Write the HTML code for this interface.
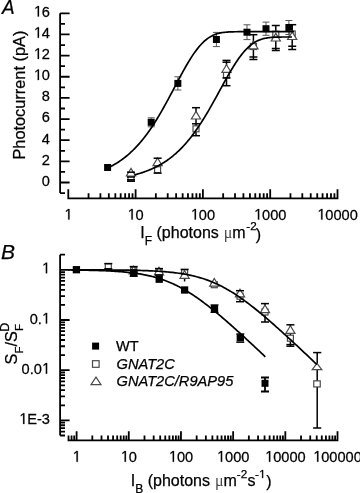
<!DOCTYPE html>
<html><head><meta charset="utf-8"><title>Figure</title><style>
html,body{margin:0;padding:0;background:#fff;}
body{width:360px;height:493px;overflow:hidden;}
svg{display:block;filter:grayscale(1);}
text{font-family:"Liberation Sans",sans-serif;fill:#000;stroke:#000;stroke-width:0.25px;}
tspan.o{stroke:none;}
.g1{stroke:#000;stroke-width:0.25px;}
tspan.o{fill:transparent;}
</style></head><body>
<svg width="360" height="493" viewBox="0 0 360 493">
<rect width="360" height="493" fill="#fff"/>
<path d="M60.10,13.30L60.10,193.07M60.10,193.07L65.00,193.07M60.10,182.50L69.60,182.50M60.10,171.93L65.00,171.93M60.10,161.35L69.60,161.35M60.10,150.78L65.00,150.78M60.10,140.20L69.60,140.20M60.10,129.62L65.00,129.62M60.10,119.05L69.60,119.05M60.10,108.48L65.00,108.48M60.10,97.90L69.60,97.90M60.10,87.33L65.00,87.33M60.10,76.75L69.60,76.75M60.10,66.18L65.00,66.18M60.10,55.60L69.60,55.60M60.10,45.03L65.00,45.03M60.10,34.45L69.60,34.45M60.10,23.88L65.00,23.88M60.10,13.30L69.60,13.30M67.40,198.30L338.40,198.30M68.30,198.30L68.30,189.30M88.56,198.30L88.56,193.30M100.41,198.30L100.41,193.30M108.82,198.30L108.82,193.30M115.34,198.30L115.34,193.30M120.67,198.30L120.67,193.30M125.18,198.30L125.18,193.30M129.08,198.30L129.08,193.30M132.52,198.30L132.52,193.30M135.60,198.30L135.60,189.30M155.86,198.30L155.86,193.30M167.71,198.30L167.71,193.30M176.12,198.30L176.12,193.30M182.64,198.30L182.64,193.30M187.97,198.30L187.97,193.30M192.48,198.30L192.48,193.30M196.38,198.30L196.38,193.30M199.82,198.30L199.82,193.30M202.90,198.30L202.90,189.30M223.16,198.30L223.16,193.30M235.01,198.30L235.01,193.30M243.42,198.30L243.42,193.30M249.94,198.30L249.94,193.30M255.27,198.30L255.27,193.30M259.78,198.30L259.78,193.30M263.68,198.30L263.68,193.30M267.12,198.30L267.12,193.30M270.20,198.30L270.20,189.30M290.46,198.30L290.46,193.30M302.31,198.30L302.31,193.30M310.72,198.30L310.72,193.30M317.24,198.30L317.24,193.30M322.57,198.30L322.57,193.30M327.08,198.30L327.08,193.30M330.98,198.30L330.98,193.30M334.42,198.30L334.42,193.30M337.50,198.30L337.50,189.30M60.10,254.69L60.10,435.51M60.10,435.51L65.00,435.51M60.10,431.54L65.00,431.54M60.10,428.18L65.00,428.18M60.10,425.26L65.00,425.26M60.10,422.70L65.00,422.70M60.10,420.40L69.60,420.40M60.10,405.29L65.00,405.29M60.10,396.45L65.00,396.45M60.10,390.18L65.00,390.18M60.10,385.31L65.00,385.31M60.10,381.34L65.00,381.34M60.10,377.98L65.00,377.98M60.10,375.06L65.00,375.06M60.10,372.50L65.00,372.50M60.10,370.20L69.60,370.20M60.10,355.09L65.00,355.09M60.10,346.25L65.00,346.25M60.10,339.98L65.00,339.98M60.10,335.11L65.00,335.11M60.10,331.14L65.00,331.14M60.10,327.78L65.00,327.78M60.10,324.86L65.00,324.86M60.10,322.30L65.00,322.30M60.10,320.00L69.60,320.00M60.10,304.89L65.00,304.89M60.10,296.05L65.00,296.05M60.10,289.78L65.00,289.78M60.10,284.91L65.00,284.91M60.10,280.94L65.00,280.94M60.10,277.58L65.00,277.58M60.10,274.66L65.00,274.66M60.10,272.10L65.00,272.10M60.10,269.80L69.60,269.80M60.10,254.69L65.00,254.69M60.10,254.69L65.00,254.69M67.62,440.30L338.40,440.30M68.52,440.30L68.52,435.50M71.54,440.30L71.54,435.50M74.21,440.30L74.21,435.50M76.60,440.30L76.60,431.30M92.31,440.30L92.31,435.50M101.50,440.30L101.50,435.50M108.02,440.30L108.02,435.50M113.07,440.30L113.07,435.50M117.20,440.30L117.20,435.50M120.70,440.30L120.70,435.50M123.72,440.30L123.72,435.50M126.39,440.30L126.39,435.50M128.78,440.30L128.78,431.30M144.49,440.30L144.49,435.50M153.68,440.30L153.68,435.50M160.20,440.30L160.20,435.50M165.25,440.30L165.25,435.50M169.38,440.30L169.38,435.50M172.88,440.30L172.88,435.50M175.90,440.30L175.90,435.50M178.57,440.30L178.57,435.50M180.96,440.30L180.96,431.30M196.67,440.30L196.67,435.50M205.86,440.30L205.86,435.50M212.38,440.30L212.38,435.50M217.43,440.30L217.43,435.50M221.56,440.30L221.56,435.50M225.06,440.30L225.06,435.50M228.08,440.30L228.08,435.50M230.75,440.30L230.75,435.50M233.14,440.30L233.14,431.30M248.85,440.30L248.85,435.50M258.04,440.30L258.04,435.50M264.56,440.30L264.56,435.50M269.61,440.30L269.61,435.50M273.74,440.30L273.74,435.50M277.24,440.30L277.24,435.50M280.26,440.30L280.26,435.50M282.93,440.30L282.93,435.50M285.32,440.30L285.32,431.30M301.03,440.30L301.03,435.50M310.22,440.30L310.22,435.50M316.74,440.30L316.74,435.50M321.79,440.30L321.79,435.50M325.92,440.30L325.92,435.50M329.42,440.30L329.42,435.50M332.44,440.30L332.44,435.50M335.11,440.30L335.11,435.50M337.50,440.30L337.50,431.30" stroke="#000" stroke-width="1.80" fill="none"/>
<rect x="104.10" y="164.00" width="7.00" height="7.00"/>
<path d="M151.20,117.80L151.20,126.80M147.70,117.80L154.70,117.80M147.70,126.80L154.70,126.80" stroke="#555" stroke-width="1.00" fill="none"/>
<rect x="147.70" y="118.80" width="7.00" height="7.00"/>
<path d="M177.85,76.80L177.85,90.00M174.35,76.80L181.35,76.80M174.35,90.00L181.35,90.00" stroke="#555" stroke-width="1.00" fill="none"/>
<rect x="174.35" y="79.90" width="7.00" height="7.00"/>
<path d="M216.40,32.40L216.40,46.60M212.90,32.40L219.90,32.40M212.90,46.60L219.90,46.60" stroke="#555" stroke-width="1.00" fill="none"/>
<rect x="212.90" y="36.00" width="7.00" height="7.00"/>
<path d="M247.00,24.80L247.00,39.60M243.50,24.80L250.50,24.80M243.50,39.60L250.50,39.60" stroke="#555" stroke-width="1.00" fill="none"/>
<rect x="243.50" y="28.70" width="7.00" height="7.00"/>
<path d="M266.00,22.10L266.00,35.30M262.50,22.10L269.50,22.10M262.50,35.30L269.50,35.30" stroke="#555" stroke-width="1.00" fill="none"/>
<rect x="262.50" y="25.20" width="7.00" height="7.00"/>
<path d="M288.90,20.50L288.90,34.50M285.40,20.50L292.40,20.50M285.40,34.50L292.40,34.50" stroke="#555" stroke-width="1.00" fill="none"/>
<rect x="285.40" y="24.00" width="7.00" height="7.00"/>
<path d="M131.00,172.20L131.00,181.20" stroke="#000" stroke-width="1.50"/>
<rect x="128.00" y="175.00" width="6.00" height="6.00" fill="#fff" stroke="#4a4a4a" stroke-width="1.20"/>
<path d="M131.00,168.40L135.60,176.00L126.40,176.00Z" fill="#fff" stroke="#4a4a4a" stroke-width="1.20"/>
<path d="M127.00,172.20L135.00,172.20" stroke="#000" stroke-width="1.50"/>
<path d="M127.00,177.00L135.00,177.00" stroke="#000" stroke-width="1.50"/>
<path d="M127.00,179.80L135.00,179.80" stroke="#000" stroke-width="1.50"/>
<path d="M127.00,181.20L135.00,181.20" stroke="#000" stroke-width="1.50"/>
<path d="M157.60,158.20L157.60,173.10" stroke="#000" stroke-width="1.50"/>
<rect x="154.60" y="166.70" width="6.00" height="6.00" fill="#fff" stroke="#4a4a4a" stroke-width="1.20"/>
<path d="M157.60,158.00L162.20,165.60L153.00,165.60Z" fill="#fff" stroke="#4a4a4a" stroke-width="1.20"/>
<path d="M153.60,158.20L161.60,158.20" stroke="#000" stroke-width="1.50"/>
<path d="M153.60,173.10L161.60,173.10" stroke="#000" stroke-width="1.50"/>
<path d="M196.00,107.70L196.00,135.70" stroke="#000" stroke-width="1.50"/>
<rect x="193.00" y="125.80" width="6.00" height="6.00" fill="#fff" stroke="#4a4a4a" stroke-width="1.20"/>
<path d="M196.00,111.40L200.60,119.00L191.40,119.00Z" fill="#fff" stroke="#4a4a4a" stroke-width="1.20"/>
<path d="M192.00,107.70L200.00,107.70" stroke="#000" stroke-width="1.50"/>
<path d="M192.00,123.80L200.00,123.80" stroke="#000" stroke-width="1.50"/>
<path d="M192.00,135.70L200.00,135.70" stroke="#000" stroke-width="1.50"/>
<path d="M226.50,60.40L226.50,85.70" stroke="#000" stroke-width="1.50"/>
<rect x="223.50" y="71.60" width="6.00" height="6.00" fill="#fff" stroke="#4a4a4a" stroke-width="1.20"/>
<path d="M226.50,64.70L231.10,72.30L221.90,72.30Z" fill="#fff" stroke="#4a4a4a" stroke-width="1.20"/>
<path d="M222.50,60.40L230.50,60.40" stroke="#000" stroke-width="1.50"/>
<path d="M222.50,62.20L230.50,62.20" stroke="#000" stroke-width="1.50"/>
<path d="M222.50,78.00L230.50,78.00" stroke="#000" stroke-width="1.50"/>
<path d="M222.50,85.70L230.50,85.70" stroke="#000" stroke-width="1.50"/>
<path d="M253.40,34.70L253.40,59.50" stroke="#000" stroke-width="1.50"/>
<rect x="250.40" y="43.50" width="6.00" height="6.00" fill="#fff" stroke="#4a4a4a" stroke-width="1.20"/>
<path d="M253.40,41.20L258.00,48.80L248.80,48.80Z" fill="#fff" stroke="#4a4a4a" stroke-width="1.20"/>
<path d="M249.40,34.70L257.40,34.70" stroke="#000" stroke-width="1.50"/>
<path d="M249.40,57.00L257.40,57.00" stroke="#000" stroke-width="1.50"/>
<path d="M249.40,59.50L257.40,59.50" stroke="#000" stroke-width="1.50"/>
<path d="M275.80,25.50L275.80,50.50" stroke="#000" stroke-width="1.50"/>
<rect x="272.80" y="31.20" width="6.00" height="6.00" fill="#fff" stroke="#4a4a4a" stroke-width="1.20"/>
<path d="M275.80,33.40L280.40,41.00L271.20,41.00Z" fill="#fff" stroke="#4a4a4a" stroke-width="1.20"/>
<path d="M271.80,25.50L279.80,25.50" stroke="#000" stroke-width="1.50"/>
<path d="M271.80,48.50L279.80,48.50" stroke="#000" stroke-width="1.50"/>
<path d="M271.80,50.50L279.80,50.50" stroke="#000" stroke-width="1.50"/>
<path d="M292.20,24.70L292.20,49.50" stroke="#000" stroke-width="1.50"/>
<rect x="289.20" y="31.00" width="6.00" height="6.00" fill="#fff" stroke="#4a4a4a" stroke-width="1.20"/>
<path d="M292.20,31.90L296.80,39.50L287.60,39.50Z" fill="#fff" stroke="#4a4a4a" stroke-width="1.20"/>
<path d="M288.20,24.70L296.20,24.70" stroke="#000" stroke-width="1.50"/>
<path d="M288.20,46.25L296.20,46.25" stroke="#000" stroke-width="1.50"/>
<path d="M288.20,49.50L296.20,49.50" stroke="#000" stroke-width="1.50"/>
<path d="M184.60,269.40L184.60,281.50" stroke="#000" stroke-width="1.50"/>
<path d="M108.30,263.60L108.30,268.80" stroke="#000" stroke-width="1.50"/>
<rect x="105.30" y="263.80" width="6.00" height="6.00" fill="#fff" stroke="#4a4a4a" stroke-width="1.20"/>
<path d="M104.30,263.60L112.30,263.60" stroke="#000" stroke-width="1.50"/>
<path d="M104.30,268.80L112.30,268.80" stroke="#000" stroke-width="1.50"/>
<path d="M133.70,266.60L133.70,276.20" stroke="#000" stroke-width="1.50"/>
<rect x="130.70" y="267.50" width="6.00" height="6.00" fill="#fff" stroke="#4a4a4a" stroke-width="1.20"/>
<path d="M133.70,266.20L138.30,273.80L129.10,273.80Z" fill="#fff" stroke="#4a4a4a" stroke-width="1.20"/>
<path d="M129.70,266.60L137.70,266.60" stroke="#000" stroke-width="1.50"/>
<path d="M129.70,276.20L137.70,276.20" stroke="#000" stroke-width="1.50"/>
<path d="M159.00,268.60L159.00,275.00" stroke="#000" stroke-width="1.50"/>
<rect x="156.00" y="269.00" width="6.00" height="6.00" fill="#fff" stroke="#4a4a4a" stroke-width="1.20"/>
<path d="M159.00,267.20L163.60,274.80L154.40,274.80Z" fill="#fff" stroke="#4a4a4a" stroke-width="1.20"/>
<path d="M155.00,268.60L163.00,268.60" stroke="#000" stroke-width="1.50"/>
<path d="M155.00,275.00L163.00,275.00" stroke="#000" stroke-width="1.50"/>
<rect x="181.60" y="269.80" width="6.00" height="6.00" fill="#fff" stroke="#4a4a4a" stroke-width="1.20"/>
<path d="M184.60,270.70L189.20,278.30L180.00,278.30Z" fill="#fff" stroke="#4a4a4a" stroke-width="1.20"/>
<path d="M180.60,269.40L188.60,269.40" stroke="#000" stroke-width="1.50"/>
<rect x="211.30" y="281.70" width="6.00" height="6.00" fill="#fff" stroke="#4a4a4a" stroke-width="1.20"/>
<path d="M214.30,278.50L218.90,286.10L209.70,286.10Z" fill="#fff" stroke="#4a4a4a" stroke-width="1.20"/>
<path d="M240.00,290.70L240.00,301.70" stroke="#000" stroke-width="1.50"/>
<rect x="237.00" y="293.20" width="6.00" height="6.00" fill="#fff" stroke="#4a4a4a" stroke-width="1.20"/>
<path d="M240.00,289.20L244.60,296.80L235.40,296.80Z" fill="#fff" stroke="#4a4a4a" stroke-width="1.20"/>
<path d="M236.00,290.70L244.00,290.70" stroke="#000" stroke-width="1.50"/>
<path d="M236.00,301.70L244.00,301.70" stroke="#000" stroke-width="1.50"/>
<path d="M265.00,303.60L265.00,322.00" stroke="#000" stroke-width="1.50"/>
<rect x="262.00" y="309.00" width="6.00" height="6.00" fill="#fff" stroke="#4a4a4a" stroke-width="1.20"/>
<path d="M265.00,305.00L269.60,312.60L260.40,312.60Z" fill="#fff" stroke="#4a4a4a" stroke-width="1.20"/>
<path d="M261.00,303.60L269.00,303.60" stroke="#000" stroke-width="1.50"/>
<path d="M261.00,322.00L269.00,322.00" stroke="#000" stroke-width="1.50"/>
<path d="M290.40,324.80L290.40,346.20" stroke="#000" stroke-width="1.50"/>
<rect x="287.40" y="335.20" width="6.00" height="6.00" fill="#fff" stroke="#4a4a4a" stroke-width="1.20"/>
<path d="M290.40,325.80L295.00,333.40L285.80,333.40Z" fill="#fff" stroke="#4a4a4a" stroke-width="1.20"/>
<path d="M286.40,324.80L294.40,324.80" stroke="#000" stroke-width="1.50"/>
<path d="M286.40,344.60L294.40,344.60" stroke="#000" stroke-width="1.50"/>
<path d="M286.40,346.20L294.40,346.20" stroke="#000" stroke-width="1.50"/>
<path d="M236.30,334.00L244.30,334.00" stroke="#000" stroke-width="1.40"/>
<path d="M236.30,342.20L244.30,342.20" stroke="#000" stroke-width="1.40"/>
<path d="M210.50,304.90L218.50,304.90" stroke="#000" stroke-width="1.20"/>
<path d="M210.50,312.40L218.50,312.40" stroke="#000" stroke-width="1.20"/>
<rect x="72.75" y="266.05" width="7.30" height="7.30"/>
<rect x="130.05" y="269.15" width="7.30" height="7.30"/>
<rect x="155.55" y="275.55" width="7.30" height="7.30"/>
<rect x="180.95" y="286.35" width="7.30" height="7.30"/>
<rect x="210.85" y="305.05" width="7.30" height="7.30"/>
<rect x="236.65" y="334.15" width="7.30" height="7.30"/>
<path d="M317.20,352.60L317.20,428.00" stroke="#000" stroke-width="1.50"/>
<path d="M313.10,352.60L321.30,352.60" stroke="#000" stroke-width="1.50"/>
<path d="M313.10,428.00L321.30,428.00" stroke="#000" stroke-width="1.50"/>
<path d="M317.00,363.30L321.80,369.70L312.20,369.70Z" fill="#fff" stroke="#4a4a4a" stroke-width="1.20"/>
<rect x="313.75" y="380.85" width="6.5" height="6.1" fill="#fff" stroke="#4a4a4a" stroke-width="1.20"/>
<path d="M265.00,377.50L265.00,391.50M261.00,377.50L269.00,377.50M261.00,391.50L269.00,391.50" stroke="#000" stroke-width="1.80" fill="none"/>
<rect x="261.50" y="379.80" width="7.00" height="7.00"/>
<path d="M107.60,168.02L108.77,167.46L109.93,166.88L111.09,166.28L112.26,165.66L113.42,165.02L114.59,164.35L115.75,163.66L116.92,162.95L118.08,162.21L119.25,161.44L120.41,160.65L121.58,159.83L122.74,158.99L123.91,158.11L125.07,157.21L126.24,156.28L127.41,155.31L128.57,154.32L129.73,153.29L130.90,152.23L132.06,151.14L133.23,150.01L134.39,148.85L135.56,147.65L136.72,146.42L137.89,145.15L139.06,143.84L140.22,142.50L141.38,141.12L142.55,139.70L143.72,138.25L144.88,136.75L146.04,135.22L147.21,133.65L148.38,132.04L149.54,130.39L150.70,128.70L151.87,126.98L153.03,125.21L154.20,123.42L155.37,121.58L156.53,119.71L157.69,117.80L158.86,115.86L160.02,113.89L161.19,111.89L162.36,109.85L163.52,107.79L164.69,105.70L165.85,103.59L167.01,101.46L168.18,99.31L169.34,97.14L170.51,94.95L171.68,92.76L172.84,90.55L174.00,88.34L175.17,86.13L176.33,83.92L177.50,81.72L178.66,79.52L179.83,77.34L181.00,75.18L182.16,73.03L183.32,70.91L184.49,68.82L185.66,66.77L186.82,64.75L187.99,62.77L189.15,60.84L190.31,58.95L191.48,57.12L192.64,55.34L193.81,53.63L194.97,51.97L196.14,50.39L197.31,48.87L198.47,47.41L199.63,46.03L200.80,44.72L201.96,43.49L203.13,42.33L204.30,41.24L205.46,40.23L206.62,39.29L207.79,38.42L208.95,37.62L210.12,36.89L211.29,36.23L212.45,35.63L213.62,35.08L214.78,34.60L215.94,34.17L217.11,33.79L218.27,33.46L219.44,33.17L220.60,32.91L221.77,32.70L222.94,32.51L224.10,32.36L225.26,32.23L226.43,32.12L227.59,32.03L228.76,31.96L229.93,31.90L231.09,31.85L232.25,31.81L233.42,31.79L234.59,31.76L235.75,31.75L236.91,31.73L238.08,31.72L239.25,31.72L240.41,31.71L241.57,31.71L242.74,31.71L243.91,31.70L245.07,31.70L246.24,31.70L247.40,31.70L248.56,31.70L249.73,31.70L250.90,31.70L252.06,31.70L253.22,31.70L254.39,31.70L255.55,31.70L256.72,31.70L257.88,31.70L259.05,31.70L260.22,31.70L261.38,31.70L262.54,31.70L263.71,31.70L264.88,31.70L266.04,31.70L267.20,31.70L268.37,31.70L269.53,31.70L270.70,31.70L271.87,31.70L273.03,31.70L274.19,31.70L275.36,31.70L276.52,31.70L277.69,31.70L278.86,31.70L280.02,31.70L281.19,31.70L282.35,31.70L283.51,31.70L284.68,31.70L285.85,31.70L287.01,31.70L288.17,31.70L289.34,31.70L290.50,31.70L291.67,31.70L292.84,31.70L294.00,31.70M134.40,174.86L135.39,174.61L136.37,174.34L137.36,174.07L138.34,173.79L139.33,173.50L140.31,173.21L141.30,172.90L142.28,172.58L143.27,172.25L144.25,171.91L145.24,171.57L146.22,171.21L147.21,170.83L148.19,170.45L149.18,170.06L150.16,169.65L151.15,169.23L152.13,168.80L153.12,168.35L154.10,167.89L155.09,167.42L156.07,166.93L157.06,166.43L158.04,165.91L159.03,165.37L160.01,164.82L161.00,164.26L161.98,163.68L162.97,163.08L163.95,162.46L164.94,161.82L165.92,161.17L166.91,160.50L167.89,159.80L168.88,159.09L169.86,158.36L170.84,157.61L171.83,156.83L172.81,156.04L173.80,155.22L174.78,154.39L175.77,153.52L176.75,152.64L177.74,151.73L178.73,150.80L179.71,149.85L180.69,148.87L181.68,147.87L182.67,146.84L183.65,145.79L184.63,144.71L185.62,143.60L186.61,142.47L187.59,141.31L188.57,140.13L189.56,138.92L190.55,137.69L191.53,136.42L192.51,135.13L193.50,133.82L194.49,132.48L195.47,131.11L196.45,129.71L197.44,128.29L198.43,126.84L199.41,125.37L200.39,123.87L201.38,122.35L202.37,120.81L203.35,119.24L204.34,117.64L205.32,116.03L206.31,114.39L207.29,112.74L208.28,111.06L209.26,109.37L210.25,107.65L211.23,105.93L212.22,104.18L213.20,102.43L214.19,100.66L215.17,98.88L216.16,97.09L217.14,95.30L218.12,93.50L219.11,91.70L220.09,89.89L221.08,88.09L222.06,86.29L223.05,84.49L224.04,82.71L225.02,80.93L226.00,79.16L226.99,77.41L227.98,75.67L228.96,73.95L229.94,72.26L230.93,70.59L231.92,68.94L232.90,67.32L233.88,65.73L234.87,64.18L235.86,62.66L236.84,61.18L237.82,59.74L238.81,58.33L239.80,56.98L240.78,55.66L241.76,54.39L242.75,53.17L243.74,52.00L244.72,50.87L245.70,49.80L246.69,48.77L247.68,47.80L248.66,46.88L249.65,46.01L250.63,45.19L251.62,44.42L252.60,43.70L253.58,43.03L254.57,42.40L255.56,41.83L256.54,41.29L257.52,40.80L258.51,40.36L259.50,39.95L260.48,39.58L261.46,39.24L262.45,38.94L263.44,38.68L264.42,38.44L265.40,38.22L266.39,38.04L267.38,37.87L268.36,37.73L269.35,37.61L270.33,37.50L271.31,37.41L272.30,37.34L273.28,37.27L274.27,37.22L275.25,37.17L276.24,37.13L277.23,37.10L278.21,37.08L279.20,37.06L280.18,37.04L281.16,37.03L282.15,37.02L283.13,37.01L284.12,37.01L285.11,37.00L286.09,37.00L287.08,36.99L288.06,36.99L289.05,36.99L290.03,36.99L291.01,36.99L292.00,36.99M68.40,269.99L69.63,270.00L70.86,270.02L72.09,270.03L73.32,270.04L74.55,270.05L75.78,270.07L77.01,270.08L78.25,270.10L79.48,270.12L80.71,270.13L81.94,270.15L83.17,270.17L84.40,270.19L85.63,270.21L86.86,270.24L88.09,270.26L89.32,270.28L90.55,270.31L91.78,270.34L93.01,270.37L94.24,270.40L95.47,270.43L96.70,270.47L97.94,270.51L99.17,270.54L100.40,270.58L101.63,270.63L102.86,270.67L104.09,270.72L105.32,270.77L106.55,270.82L107.78,270.88L109.01,270.94L110.24,271.00L111.47,271.06L112.70,271.13L113.93,271.21L115.16,271.28L116.39,271.36L117.62,271.44L118.86,271.53L120.09,271.63L121.32,271.72L122.55,271.83L123.78,271.93L125.01,272.05L126.24,272.17L127.47,272.29L128.70,272.42L129.93,272.56L131.16,272.70L132.39,272.85L133.62,273.01L134.85,273.18L136.08,273.35L137.31,273.53L138.55,273.73L139.78,273.92L141.01,274.13L142.24,274.35L143.47,274.58L144.70,274.82L145.93,275.07L147.16,275.33L148.39,275.60L149.62,275.88L150.85,276.17L152.08,276.48L153.31,276.80L154.54,277.13L155.77,277.47L157.00,277.83L158.24,278.20L159.47,278.59L160.70,278.99L161.93,279.40L163.16,279.83L164.39,280.28L165.62,280.74L166.85,281.21L168.08,281.70L169.31,282.21L170.54,282.73L171.77,283.27L173.00,283.82L174.23,284.39L175.46,284.98L176.69,285.58L177.93,286.20L179.16,286.83L180.39,287.48L181.62,288.15L182.85,288.83L184.08,289.52L185.31,290.24L186.54,290.96L187.77,291.71L189.00,292.47L190.23,293.24L191.46,294.03L192.69,294.83L193.92,295.64L195.15,296.47L196.39,297.31L197.62,298.17L198.85,299.04L200.08,299.92L201.31,300.81L202.54,301.71L203.77,302.63L205.00,303.56L206.23,304.49L207.46,305.44L208.69,306.40L209.92,307.37L211.15,308.34L212.38,309.33L213.61,310.33L214.84,311.33L216.08,312.34L217.31,313.36L218.54,314.39L219.77,315.42L221.00,316.46L222.23,317.51L223.46,318.57L224.69,319.63L225.92,320.69L227.15,321.76L228.38,322.84L229.61,323.92L230.84,325.01L232.07,326.10L233.30,327.20L234.53,328.30L235.77,329.41L237.00,330.52L238.23,331.63L239.46,332.74L240.69,333.86L241.92,334.99L243.15,336.11L244.38,337.24L245.61,338.37L246.84,339.51L248.07,340.64L249.30,341.78L250.53,342.92L251.76,344.07L252.99,345.21L254.22,346.36L255.46,347.51L256.69,348.66L257.92,349.82L259.15,350.97L260.38,352.13L261.61,353.28L262.84,354.44L264.07,355.60L265.30,356.76M68.40,269.83L69.95,269.83L71.51,269.83L73.06,269.84L74.61,269.84L76.17,269.84L77.72,269.84L79.27,269.85L80.83,269.85L82.38,269.85L83.93,269.86L85.48,269.86L87.04,269.87L88.59,269.87L90.14,269.87L91.70,269.88L93.25,269.89L94.80,269.89L96.36,269.90L97.91,269.91L99.46,269.91L101.02,269.92L102.57,269.93L104.12,269.94L105.67,269.95L107.23,269.96L108.78,269.97L110.33,269.98L111.89,269.99L113.44,270.01L114.99,270.02L116.55,270.04L118.10,270.06L119.65,270.07L121.21,270.09L122.76,270.11L124.31,270.14L125.87,270.16L127.42,270.18L128.97,270.21L130.52,270.24L132.08,270.27L133.63,270.30L135.18,270.34L136.74,270.38L138.29,270.42L139.84,270.46L141.40,270.51L142.95,270.56L144.50,270.61L146.06,270.66L147.61,270.72L149.16,270.79L150.72,270.86L152.27,270.93L153.82,271.01L155.38,271.09L156.93,271.18L158.48,271.27L160.03,271.38L161.59,271.48L163.14,271.60L164.69,271.72L166.25,271.85L167.80,271.99L169.35,272.14L170.91,272.29L172.46,272.46L174.01,272.63L175.57,272.82L177.12,273.02L178.67,273.23L180.22,273.46L181.78,273.70L183.33,273.95L184.88,274.21L186.44,274.49L187.99,274.79L189.54,275.11L191.10,275.44L192.65,275.79L194.20,276.16L195.76,276.54L197.31,276.95L198.86,277.38L200.42,277.83L201.97,278.30L203.52,278.79L205.07,279.31L206.63,279.85L208.18,280.41L209.73,281.00L211.29,281.62L212.84,282.25L214.39,282.92L215.95,283.60L217.50,284.32L219.05,285.06L220.61,285.82L222.16,286.61L223.71,287.43L225.27,288.27L226.82,289.14L228.37,290.03L229.92,290.94L231.48,291.88L233.03,292.84L234.58,293.83L236.14,294.84L237.69,295.87L239.24,296.92L240.80,298.00L242.35,299.09L243.90,300.21L245.46,301.34L247.01,302.49L248.56,303.66L250.12,304.85L251.67,306.05L253.22,307.27L254.77,308.50L256.33,309.75L257.88,311.01L259.43,312.29L260.99,313.58L262.54,314.87L264.09,316.19L265.65,317.51L267.20,318.84L268.75,320.18L270.31,321.53L271.86,322.89L273.41,324.26L274.97,325.63L276.52,327.01L278.07,328.40L279.62,329.80L281.18,331.20L282.73,332.61L284.28,334.02L285.84,335.44L287.39,336.86L288.94,338.29L290.50,339.72L292.05,341.16L293.60,342.60L295.16,344.04L296.71,345.49L298.26,346.94L299.82,348.39L301.37,349.84L302.92,351.30L304.47,352.76L306.03,354.22L307.58,355.69L309.13,357.15L310.69,358.62L312.24,360.09L313.79,361.56L315.35,363.03L316.90,364.51" stroke="#000" stroke-width="1.70" fill="none" stroke-linejoin="round"/>
<rect x="92.10" y="342.60" width="7.00" height="7.00"/>
<rect x="92.50" y="360.70" width="6.60" height="6.60" fill="#fff" stroke="#4a4a4a" stroke-width="1.20"/>
<path d="M96.00,377.10L101.00,384.70L91.00,384.70Z" fill="#fff" stroke="#4a4a4a" stroke-width="1.20"/>
<g transform="translate(50.0,185.80) scale(0.950,1)"><text id="t0" x="0" y="0" text-anchor="end"><tspan font-size="15.40">0</tspan></text></g>
<g transform="translate(50.0,164.65) scale(0.950,1)"><text id="t1" x="0" y="0" text-anchor="end"><tspan font-size="15.40">2</tspan></text></g>
<g transform="translate(50.0,143.50) scale(0.950,1)"><text id="t2" x="0" y="0" text-anchor="end"><tspan font-size="15.40">4</tspan></text></g>
<g transform="translate(50.0,122.35) scale(0.950,1)"><text id="t3" x="0" y="0" text-anchor="end"><tspan font-size="15.40">6</tspan></text></g>
<g transform="translate(50.0,101.20) scale(0.950,1)"><text id="t4" x="0" y="0" text-anchor="end"><tspan font-size="15.40">8</tspan></text></g>
<g transform="translate(50.0,80.05) scale(0.950,1)"><text id="t5" x="0" y="0" text-anchor="end"><tspan font-size="15.40"><tspan class="o">1</tspan>0</tspan></text><path class="g1" d="M-12.94,0.00L-11.58,0.00L-11.58,-10.60L-12.82,-10.60L-15.33,-8.87L-15.33,-7.59L-12.94,-9.30Z"/></g>
<g transform="translate(50.0,58.90) scale(0.950,1)"><text id="t6" x="0" y="0" text-anchor="end"><tspan font-size="15.40"><tspan class="o">1</tspan>2</tspan></text><path class="g1" d="M-12.94,0.00L-11.58,0.00L-11.58,-10.60L-12.82,-10.60L-15.33,-8.87L-15.33,-7.59L-12.94,-9.30Z"/></g>
<g transform="translate(50.0,37.75) scale(0.950,1)"><text id="t7" x="0" y="0" text-anchor="end"><tspan font-size="15.40"><tspan class="o">1</tspan>4</tspan></text><path class="g1" d="M-12.94,0.00L-11.58,0.00L-11.58,-10.60L-12.82,-10.60L-15.33,-8.87L-15.33,-7.59L-12.94,-9.30Z"/></g>
<g transform="translate(50.0,16.60) scale(0.950,1)"><text id="t8" x="0" y="0" text-anchor="end"><tspan font-size="15.40"><tspan class="o">1</tspan>6</tspan></text><path class="g1" d="M-12.94,0.00L-11.58,0.00L-11.58,-10.60L-12.82,-10.60L-15.33,-8.87L-15.33,-7.59L-12.94,-9.30Z"/></g>
<g transform="translate(68.30,219.6) scale(0.950,1)"><text id="t9" x="0" y="0" text-anchor="middle"><tspan font-size="15.40"><tspan class="o">1</tspan></tspan></text><path class="g1" d="M-0.10,0.00L1.26,0.00L1.26,-10.60L0.01,-10.60L-2.50,-8.87L-2.50,-7.59L-0.10,-9.30Z"/></g>
<g transform="translate(135.60,219.6) scale(0.950,1)"><text id="t10" x="0" y="0" text-anchor="middle"><tspan font-size="15.40"><tspan class="o">1</tspan>0</tspan></text><path class="g1" d="M-4.38,0.00L-3.02,0.00L-3.02,-10.60L-4.27,-10.60L-6.77,-8.87L-6.77,-7.59L-4.38,-9.30Z"/></g>
<g transform="translate(202.90,219.6) scale(0.950,1)"><text id="t11" x="0" y="0" text-anchor="middle"><tspan font-size="15.40"><tspan class="o">1</tspan>00</tspan></text><path class="g1" d="M-8.66,0.00L-7.30,0.00L-7.30,-10.60L-8.55,-10.60L-11.05,-8.87L-11.05,-7.59L-8.66,-9.30Z"/></g>
<g transform="translate(270.20,219.6) scale(0.950,1)"><text id="t12" x="0" y="0" text-anchor="middle"><tspan font-size="15.40"><tspan class="o">1</tspan>000</tspan></text><path class="g1" d="M-12.94,0.00L-11.58,0.00L-11.58,-10.60L-12.82,-10.60L-15.33,-8.87L-15.33,-7.59L-12.94,-9.30Z"/></g>
<g transform="translate(337.50,219.6) scale(0.950,1)"><text id="t13" x="0" y="0" text-anchor="middle"><tspan font-size="15.40"><tspan class="o">1</tspan>0000</tspan></text><path class="g1" d="M-17.21,0.00L-15.85,0.00L-15.85,-10.60L-17.10,-10.60L-19.61,-8.87L-19.61,-7.59L-17.21,-9.30Z"/></g>
<g transform="translate(50.0,273.30) scale(0.950,1)"><text id="t14" x="0" y="0" text-anchor="end"><tspan font-size="15.40"><tspan class="o">1</tspan></tspan></text><path class="g1" d="M-4.38,0.00L-3.02,0.00L-3.02,-10.60L-4.27,-10.60L-6.77,-8.87L-6.77,-7.59L-4.38,-9.30Z"/></g>
<g transform="translate(50.0,323.50) scale(0.950,1)"><text id="t15" x="0" y="0" text-anchor="end"><tspan font-size="15.40">0.<tspan class="o">1</tspan></tspan></text><path class="g1" d="M-4.38,0.00L-3.02,0.00L-3.02,-10.60L-4.27,-10.60L-6.77,-8.87L-6.77,-7.59L-4.38,-9.30Z"/></g>
<g transform="translate(50.0,373.70) scale(0.950,1)"><text id="t16" x="0" y="0" text-anchor="end"><tspan font-size="15.40">0.0<tspan class="o">1</tspan></tspan></text><path class="g1" d="M-4.38,0.00L-3.02,0.00L-3.02,-10.60L-4.27,-10.60L-6.77,-8.87L-6.77,-7.59L-4.38,-9.30Z"/></g>
<g transform="translate(50.0,423.90) scale(0.950,1)"><text id="t17" x="0" y="0" text-anchor="end"><tspan font-size="15.40"><tspan class="o">1</tspan>E-3</tspan></text><path class="g1" d="M-28.32,0.00L-26.95,0.00L-26.95,-10.60L-28.20,-10.60L-30.71,-8.87L-30.71,-7.59L-28.32,-9.30Z"/></g>
<g transform="translate(76.60,461.7) scale(0.950,1)"><text id="t18" x="0" y="0" text-anchor="middle"><tspan font-size="15.40"><tspan class="o">1</tspan></tspan></text><path class="g1" d="M-0.10,0.00L1.26,0.00L1.26,-10.60L0.01,-10.60L-2.50,-8.87L-2.50,-7.59L-0.10,-9.30Z"/></g>
<g transform="translate(128.78,461.7) scale(0.950,1)"><text id="t19" x="0" y="0" text-anchor="middle"><tspan font-size="15.40"><tspan class="o">1</tspan>0</tspan></text><path class="g1" d="M-4.38,0.00L-3.02,0.00L-3.02,-10.60L-4.27,-10.60L-6.77,-8.87L-6.77,-7.59L-4.38,-9.30Z"/></g>
<g transform="translate(180.96,461.7) scale(0.950,1)"><text id="t20" x="0" y="0" text-anchor="middle"><tspan font-size="15.40"><tspan class="o">1</tspan>00</tspan></text><path class="g1" d="M-8.66,0.00L-7.30,0.00L-7.30,-10.60L-8.55,-10.60L-11.05,-8.87L-11.05,-7.59L-8.66,-9.30Z"/></g>
<g transform="translate(233.14,461.7) scale(0.950,1)"><text id="t21" x="0" y="0" text-anchor="middle"><tspan font-size="15.40"><tspan class="o">1</tspan>000</tspan></text><path class="g1" d="M-12.94,0.00L-11.58,0.00L-11.58,-10.60L-12.82,-10.60L-15.33,-8.87L-15.33,-7.59L-12.94,-9.30Z"/></g>
<g transform="translate(285.32,461.7) scale(0.950,1)"><text id="t22" x="0" y="0" text-anchor="middle"><tspan font-size="15.40"><tspan class="o">1</tspan>0000</tspan></text><path class="g1" d="M-17.21,0.00L-15.85,0.00L-15.85,-10.60L-17.10,-10.60L-19.61,-8.87L-19.61,-7.59L-17.21,-9.30Z"/></g>
<g transform="translate(337.50,461.7) scale(0.950,1)"><text id="t23" x="0" y="0" text-anchor="middle"><tspan font-size="15.40"><tspan class="o">1</tspan>00000</tspan></text><path class="g1" d="M-21.49,0.00L-20.13,0.00L-20.13,-10.60L-21.38,-10.60L-23.88,-8.87L-23.88,-7.59L-21.49,-9.30Z"/></g>
<g transform="translate(116.0,351.0)"><text id="t24" x="0" y="0" text-anchor="start"><tspan font-size="14.50">WT</tspan></text></g>
<g transform="translate(116.5,368.6)"><text id="t25" x="0" y="0" text-anchor="start"><tspan font-size="14.65" font-style="italic">GNAT2C</tspan></text></g>
<g transform="translate(116.5,386.4)"><text id="t26" x="0" y="0" text-anchor="start"><tspan font-size="14.65" font-style="italic">GNAT2C/R9AP95</tspan></text></g>
<g transform="translate(2.0,14.0) scale(0.9,1)"><text id="t27" x="0" y="0" text-anchor="start"><tspan font-size="21.00" font-style="italic">A</tspan></text></g>
<g transform="translate(1.0,259.2)"><text id="t28" x="0" y="0" text-anchor="start"><tspan font-size="21.00" font-style="italic">B</tspan></text></g>
<g transform="translate(24.6,159.6) rotate(-90)"><text id="t29" x="0" y="0" text-anchor="start"><tspan font-size="16.35">Photocurrent (pA)</tspan></text></g>
<g transform="translate(140.3,238.3)"><text id="t30" x="0" y="0" text-anchor="start"><tspan font-size="16.00">I</tspan><tspan font-size="12.00" dy="6.40">F</tspan><tspan font-size="16.00" dy="-6.40"> (photons </tspan><tspan font-size="16.00" dx="0.50" font-family="Liberation Serif, serif" fill="#4a4a4a" stroke="none">μ</tspan><tspan font-size="16.00">m</tspan><tspan font-size="11.70" dx="0.60" dy="-8.10">-2</tspan><tspan font-size="16.00" dx="-0.90" dy="9.30">)</tspan></text></g>
<g transform="translate(130.8,486.0)"><text id="t31" x="0" y="0" text-anchor="start"><tspan font-size="16.00">I</tspan><tspan font-size="12.00" dy="6.60">B</tspan><tspan font-size="16.00" dy="-6.60"> (photons </tspan><tspan font-size="16.00" dx="0.50" font-family="Liberation Serif, serif" fill="#4a4a4a" stroke="none">μ</tspan><tspan font-size="16.00">m</tspan><tspan font-size="11.70" dy="-7.90">-2</tspan><tspan font-size="16.00" dx="0.15" dy="7.90">s</tspan><tspan font-size="11.70" dx="-0.35" dy="-7.90">-<tspan class="o">1</tspan></tspan><tspan font-size="16.00" dx="0.80" dy="8.90">)</tspan></text><path class="g1" d="M131.31,-7.90L132.35,-7.90L132.35,-15.95L131.40,-15.95L129.50,-14.64L129.50,-13.67L131.31,-14.97Z"/></g>
<g transform="translate(16.6,364.4) rotate(-90)"><text id="t32" x="0" y="0" text-anchor="start"><tspan font-size="16.30">S</tspan><tspan font-size="11.50" dy="6.00">F</tspan><tspan font-size="16.30" dy="-6.00">/S</tspan><tspan font-size="11.50" dy="6.00">F</tspan><tspan font-size="12.50" dx="-7.60" dy="-13.90">D</tspan></text></g>
</svg>
</body></html>
